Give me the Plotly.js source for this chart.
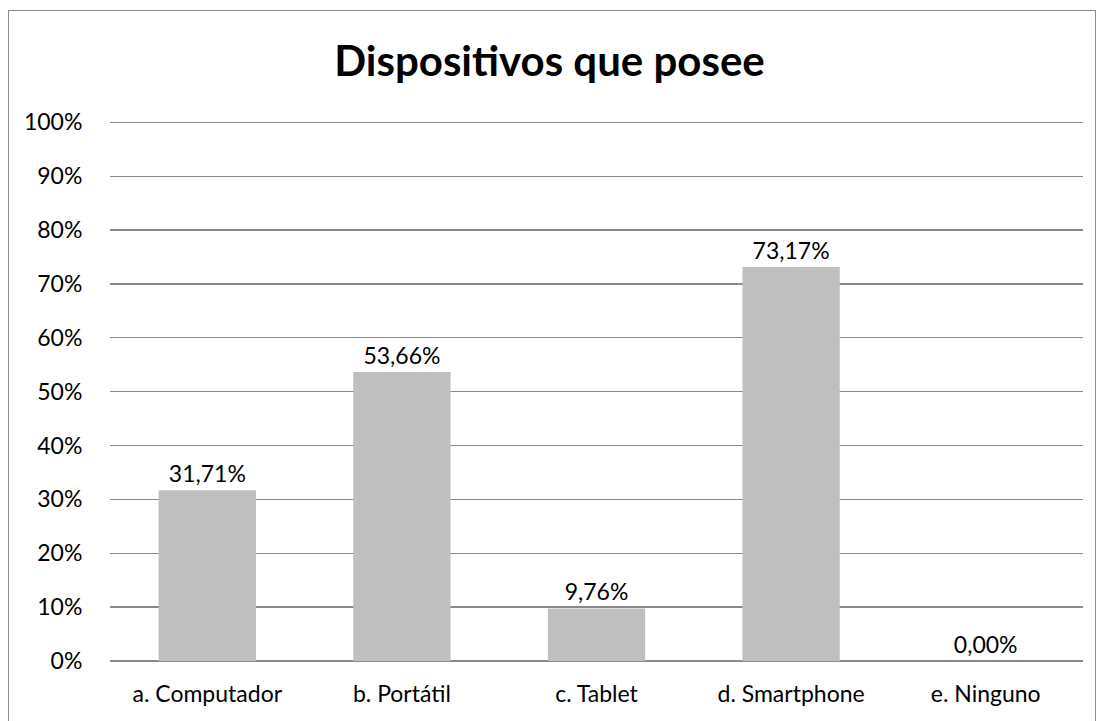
<!DOCTYPE html>
<html>
<head>
<meta charset="utf-8">
<script src="https://cdn.plot.ly/plotly-3.0.1.min.js"></script>
<style>
html,body{margin:0;padding:0;background:#fff;}
#chart{width:1099px;height:721px;}
#frame{position:absolute;left:8px;top:10px;width:1088px;height:720px;border:1.5px solid #8c8c8c;box-sizing:border-box;pointer-events:none;}
</style>
</head>
<body>
<div id="chart"></div>
<div id="frame"></div>
<script>
const categories = ["a. Computador", "b. Portátil", "c. Tablet", "d. Smartphone", "e. Ninguno"];
const values = [0.3171, 0.5366, 0.0976, 0.7317, 0.0];
const yTicks = [0, 0.1, 0.2, 0.3, 0.4, 0.5, 0.6, 0.7, 0.8, 0.9, 1.0];

const fontFam = "Lato, 'Open Sans', sans-serif";

Plotly.newPlot('chart', [{
  type: 'bar',
  x: categories,
  y: values,
  marker: {color: '#bfbfbf'},
  texttemplate: '%{y:.2%}',
  textposition: 'outside',
  cliponaxis: false,
  textfont: {family: fontFam, size: 23, color: '#000'},
  hoverinfo: 'skip'
}], {
  width: 1099,
  height: 721,
  separators: ',.',
  paper_bgcolor: '#fff',
  plot_bgcolor: '#fff',
  margin: {l: 110, r: 16, t: 117, b: 60},
  bargap: 0.5,
  showlegend: false,
  title: {
    text: '<b>Dispositivos que posee</b>',
    font: {family: fontFam, size: 42, color: '#000'},
    x: 0.5, xanchor: 'center',
    y: 0.915, yanchor: 'middle'
  },
  xaxis: {
    tickfont: {family: fontFam, size: 23, color: '#000'},
    showgrid: false,
    showline: false,
    zeroline: false,
    ticks: 'outside',
    ticklen: 12,
    tickcolor: 'rgba(0,0,0,0)',
    fixedrange: true
  },
  yaxis: {
    range: [0, 1.01],
    tickvals: yTicks,
    tickformat: '.0%',
    tickfont: {family: fontFam, size: 23, color: '#000'},
    showgrid: true,
    gridcolor: '#8a8a8a',
    gridwidth: 1.3,
    zeroline: true,
    zerolinecolor: '#8a8a8a',
    zerolinewidth: 1.3,
    showline: false,
    ticks: 'outside',
    ticklen: 22,
    tickcolor: 'rgba(0,0,0,0)',
    fixedrange: true
  }
}, {displayModeBar: false, staticPlot: true});
</script>
</body>
</html>
